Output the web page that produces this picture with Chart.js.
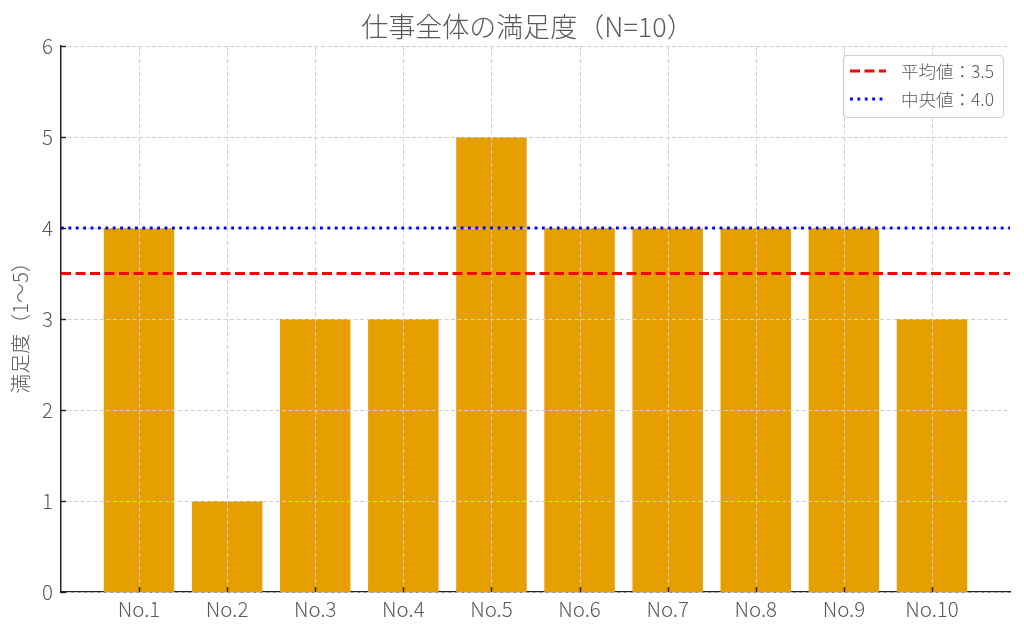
<!DOCTYPE html>
<html>
<head>
<meta charset="utf-8">
<script src="https://cdn.jsdelivr.net/npm/chart.js@4"></script>
<style>
  html,body{margin:0;padding:0;background:#fff;}
  #wrap{width:1024px;height:634px;position:relative;}
</style>
</head>
<body>
<div id="wrap"><canvas id="chart"></canvas></div>
<script>
// data
const categories = ['No.1','No.2','No.3','No.4','No.5','No.6','No.7','No.8','No.9','No.10'];
const scores = [4, 1, 3, 3, 5, 4, 4, 4, 4, 3];
const meanValue = 3.5;
const medianValue = 4.0;
const yTicks = [0, 1, 2, 3, 4, 5, 6];

const titleText = '仕事全体の満足度（N=10）';
const yLabel = '満足度（1〜5）';
const meanLabel = '平均値：3.5';
const medianLabel = '中央値：4.0';

const FONT = '"Noto Sans CJK JP", "Noto Sans", sans-serif';
const TXT = '#595959';
const X_MIN = -0.885, X_MAX = categories.length - 1 + 0.885;

const MEAN_DASH = [10, 4.5];
const MEDIAN_DASH = [2.8, 4.6];

// grid drawn right after the bars so it sits above them but under the lines
const gridPlugin = {
  id: 'gridOver',
  afterDatasetDraw(chart, args){
    if(args.index !== 0) return;
    const {ctx, chartArea:a, scales:{x, y}} = chart;
    ctx.save();
    ctx.strokeStyle = '#cfcfcf';
    ctx.lineWidth = 1;
    ctx.setLineDash([4, 2.5]);
    for(const v of yTicks){
      const py = Math.round(y.getPixelForValue(v)) + 0.5;
      ctx.beginPath(); ctx.moveTo(a.left, py); ctx.lineTo(a.right, py); ctx.stroke();
    }
    categories.forEach((_, i) => {
      const px = Math.round(x.getPixelForValue(i)) + 0.5;
      ctx.beginPath(); ctx.moveTo(px, a.top); ctx.lineTo(px, a.bottom); ctx.stroke();
    });
    ctx.restore();
  }
};

const decoPlugin = {
  id: 'deco',
  afterDraw(chart){
    const {ctx, chartArea:a, scales:{x, y}} = chart;
    ctx.save();
    // inward ticks
    ctx.strokeStyle = '#222';
    ctx.lineWidth = 1.4;
    for(const v of yTicks){
      const py = Math.round(y.getPixelForValue(v)) + 0.5;
      ctx.beginPath(); ctx.moveTo(a.left, py); ctx.lineTo(a.left + 5, py); ctx.stroke();
    }
    categories.forEach((_, i) => {
      const px = Math.round(x.getPixelForValue(i)) + 0.5;
      ctx.beginPath(); ctx.moveTo(px, a.bottom); ctx.lineTo(px, a.bottom - 5); ctx.stroke();
    });

    // title
    ctx.fillStyle = TXT;
    ctx.font = '300 27px ' + FONT;
    ctx.textAlign = 'center';
    ctx.textBaseline = 'middle';
    ctx.fillText(titleText, (a.left + a.right) / 2 - 8, 27);

    // y label
    ctx.save();
    ctx.translate(20, (a.top + a.bottom) / 2 + 4);
    ctx.rotate(-Math.PI / 2);
    ctx.font = '300 20px ' + FONT;
    ctx.fillText(yLabel, 0, 0);
    ctx.restore();

    // legend
    const bx = 843, by = 55, bw = 160, bh = 62;
    ctx.fillStyle = 'rgba(255,255,255,0.85)';
    ctx.strokeStyle = '#d0d0d0';
    ctx.lineWidth = 1.2;
    ctx.setLineDash([]);
    ctx.beginPath();
    ctx.roundRect(bx + 0.5, by + 0.5, bw, bh, 4);
    ctx.fill(); ctx.stroke();

    const rows = [
      {label: meanLabel, color: '#ff0000', dash: MEAN_DASH, y: 71},
      {label: medianLabel, color: '#0000ff', dash: MEDIAN_DASH, y: 99}
    ];
    ctx.font = '300 17.5px ' + FONT;
    ctx.textAlign = 'left';
    for(const r of rows){
      ctx.strokeStyle = r.color;
      ctx.lineWidth = 2.8;
      ctx.setLineDash(r.dash);
      ctx.beginPath(); ctx.moveTo(850, r.y); ctx.lineTo(886, r.y); ctx.stroke();
      ctx.setLineDash([]);
      ctx.fillStyle = TXT;
      ctx.fillText(r.label, 901, r.y);
    }
    ctx.restore();
  }
};

new Chart(document.getElementById('chart'), {
  type: 'bar',
  data: {
    datasets: [
      {
        data: scores.map((v, i) => ({x: i, y: v})),
        backgroundColor: '#E69F00',
        barPercentage: 0.8,
        categoryPercentage: 1.0,
        order: 3
      },
      {
        type: 'line',
        data: [{x: X_MIN, y: meanValue}, {x: X_MAX, y: meanValue}],
        borderColor: '#ff0000',
        borderWidth: 2.8,
        borderDash: MEAN_DASH,
        pointRadius: 0,
        fill: false,
        order: 2
      },
      {
        type: 'line',
        data: [{x: X_MIN, y: medianValue}, {x: X_MAX, y: medianValue}],
        borderColor: '#0000ff',
        borderWidth: 2.8,
        borderDash: MEDIAN_DASH,
        pointRadius: 0,
        fill: false,
        order: 1
      }
    ]
  },
  options: {
    responsive: true,
    maintainAspectRatio: false,
    animation: false,
    layout: {padding: {top: 46, right: 14, left: 0, bottom: 0}},
    plugins: {legend: {display: false}, tooltip: {enabled: false}, title: {display: false}},
    scales: {
      x: {
        type: 'linear',
        min: X_MIN, max: X_MAX,
        offset: false,
        afterBuildTicks: s => { s.ticks = categories.map((_, i) => ({value: i})); },
        afterFit: s => { s.height = 42; },
        grid: {display: false, drawTicks: false, offset: false},
        border: {display: true, color: '#222', width: 1.5},
        ticks: {
          autoSkip: false, maxRotation: 0, padding: 5,
          color: TXT, font: {family: FONT, size: 20.5, weight: 300},
          callback: v => categories[v]
        }
      },
      y: {
        min: 0, max: 6,
        afterBuildTicks: s => { s.ticks = yTicks.map(v => ({value: v})); },
        afterFit: s => { s.width = 61; },
        grid: {display: false, drawTicks: false},
        border: {display: true, color: '#222', width: 1.5},
        ticks: {padding: 8, color: TXT, font: {family: FONT, size: 20.5, weight: 300}}
      }
    }
  },
  plugins: [gridPlugin, decoPlugin]
});
</script>
</body>
</html>
